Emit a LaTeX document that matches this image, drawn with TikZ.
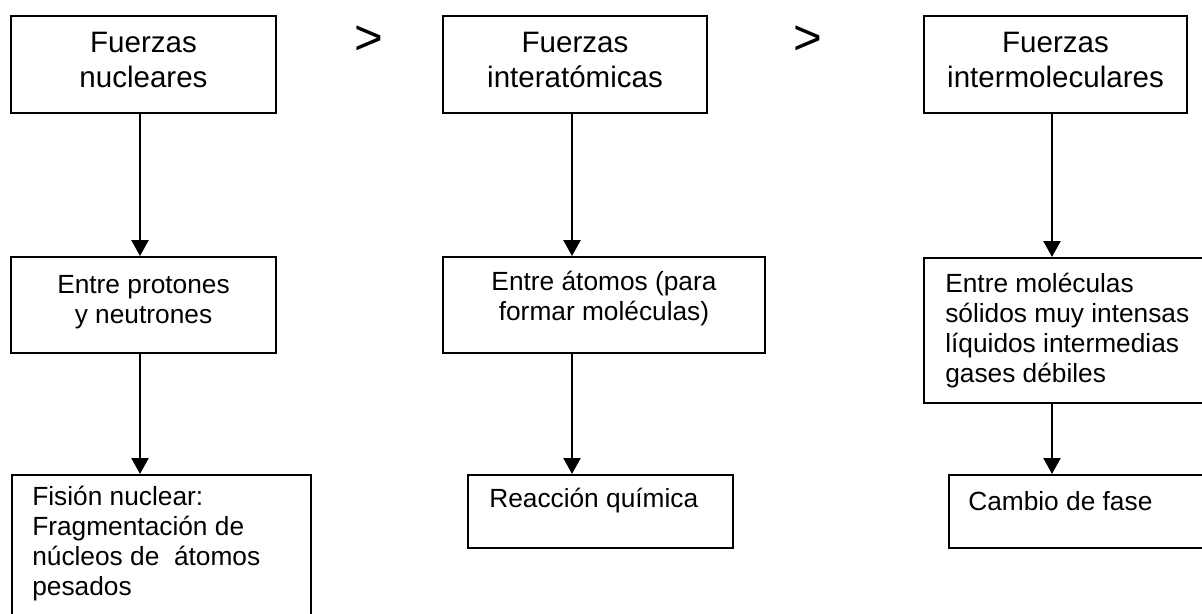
\documentclass[tikz,border=0pt]{standalone}
\usepackage{fontspec}
\setmainfont{Liberation Sans}
\usetikzlibrary{positioning,arrows.meta}

\begin{document}
\begin{tikzpicture}[font=\fontsize{18.7}{21.3}\selectfont]

		\tikzstyle{caja} = [draw, rectangle, line width=1.3pt, inner sep=0pt]
		\tikzstyle{texto} = [inner sep=0pt, align=left]
		\tikzstyle{centrado} = [inner sep=0pt, align=center]
		\tikzstyle{titulo} = [inner sep=0pt, align=center, font=\fontsize{21}{24.9}\selectfont]
		\tikzstyle{mayor} = [inner sep=0pt, font=\fontsize{35}{40}\selectfont]
		\tikzstyle{flecha} = [line width=2pt, -{Triangle[width=0.42cm,length=0.4cm]}]

		\useasboundingbox (0,0) rectangle (30.05,-15.325);
		\clip (0,0) rectangle (30.05,-15.325);

		% Fila 1
		\node[caja, minimum width=6.625cm, minimum height=2.425cm] (nucleares) at (3.5875,-1.6125) {};
		\node[caja, minimum width=6.6cm, minimum height=2.425cm] (interat) at (14.375,-1.6125) {};
		\node[caja, minimum width=6.575cm, minimum height=2.425cm] (intermol) at (26.3875,-1.6125) {};
		\node[titulo, below=0.42cm of nucleares.north] (nuclearesT) {Fuerzas\\nucleares};
		\node[titulo, below=0.42cm of interat.north] (interatT) {Fuerzas\\interatómicas};
		\node[titulo, below=0.42cm of intermol.north] (intermolT) {Fuerzas\\intermoleculares};
		\node[mayor] (mayor1) at (9.225,-1.0) {>};
		\node[mayor] (mayor2) at (20.2,-1.0) {>};

		% Fila 2
		\node[caja, minimum width=6.625cm, minimum height=2.4cm] (protones) at (3.5875,-7.625) {};
		\node[caja, minimum width=8.05cm, minimum height=2.4cm] (atomos) at (15.1,-7.625) {};
		\node[caja, anchor=north west, minimum width=7.75cm, minimum height=3.625cm] (moleculas) at (23.075,-6.425) {};
		\node[centrado, below=0.475cm of protones.north] (protonesT) {Entre protones\\y neutrones};
		\node[centrado, below=0.375cm of atomos.north] (atomosT) {Entre átomos (para\\formar moléculas)};
		\node[texto, below right=0.4cm and 0.55cm of moleculas.north west] (moleculasT) {Entre moléculas\\sólidos muy intensas\\líquidos intermedias\\gases débiles};

		% Fila 3
		\node[caja, anchor=north west, minimum width=7.475cm, minimum height=3.9cm] (fision) at (0.275,-11.85) {};
		\node[caja, anchor=north west, minimum width=6.625cm, minimum height=1.825cm] (reaccion) at (11.675,-11.85) {};
		\node[caja, anchor=north west, minimum width=7.25cm, minimum height=1.825cm] (cambio) at (23.7,-11.85) {};
		\node[texto, below right=0.3cm and 0.525cm of fision.north west] (fisionT) {Fisión nuclear:\\Fragmentación de\\núcleos de\ \ átomos\\pesados};
		\node[texto, below right=0.35cm and 0.55cm of reaccion.north west] (reaccionT) {Reacción química};
		\node[texto, below right=0.42cm and 0.5cm of cambio.north west] (cambioT) {Cambio de fase};

		% Flechas
		\coordinate (colA) at (3.5,0);
		\coordinate (colB) at (14.3,0);
		\coordinate (colC) at (26.3,0);
		\draw[flecha] (colA |- nucleares.south) -- (colA |- protones.north);
		\draw[flecha] (colA |- protones.south) -- (colA |- fision.north);
		\draw[flecha] (colB |- interat.south) -- (colB |- atomos.north);
		\draw[flecha] (colB |- atomos.south) -- (colB |- reaccion.north);
		\draw[flecha] (colC |- intermol.south) -- (colC |- moleculas.north);
		\draw[flecha] (colC |- moleculas.south) -- (colC |- cambio.north);

	\end{tikzpicture}
\end{document}
